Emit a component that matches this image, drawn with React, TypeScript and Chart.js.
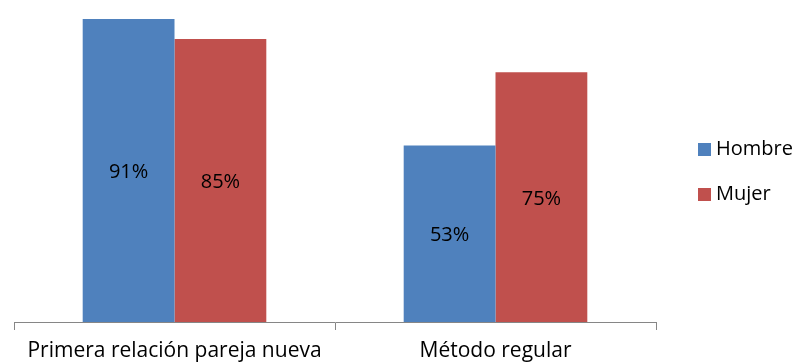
import React, { useEffect, useRef } from "react";
import { Chart, registerables } from "chart.js";

Chart.register(...registerables);

const categories = ["Primera relación pareja nueva", "Método regular"];
const seriesNames = ["Hombre", "Mujer"];
const hombreValues = [91, 53];
const mujerValues = [85, 75];
const seriesColors = ["#4F81BD", "#C0504D"];

const FONT = "'Open Sans', sans-serif";

const valueLabels = {
  id: "valueLabels",
  afterDatasetsDraw(chart: any) {
    const ctx = chart.ctx;
    ctx.save();
    ctx.font = `20px ${FONT}`;
    ctx.fillStyle = "#000";
    ctx.textAlign = "center";
    ctx.textBaseline = "middle";
    chart.data.datasets.forEach((ds: any, i: number) => {
      const meta = chart.getDatasetMeta(i);
      meta.data.forEach((bar: any, j: number) => {
        const y = (bar.y + bar.base) / 2 + 2;
        ctx.fillText(`${ds.data[j]}%`, bar.x, y);
      });
    });
    ctx.restore();
  },
};

const sideLegend = {
  id: "sideLegend",
  afterDraw(chart: any) {
    const ctx = chart.ctx;
    const area = chart.chartArea;
    const mid = (area.top + area.bottom) / 2;
    const x = area.right + 42;
    const gap = 45;
    ctx.save();
    ctx.font = `20px ${FONT}`;
    ctx.textBaseline = "middle";
    ctx.textAlign = "left";
    chart.data.datasets.forEach((ds: any, i: number) => {
      const cy = mid - 11.5 + i * gap;
      ctx.fillStyle = ds.backgroundColor;
      ctx.fillRect(x, cy - 6.5, 13, 13);
      ctx.fillStyle = "#000";
      ctx.fillText(ds.label, x + 18, cy);
    });
    ctx.restore();
  },
};

export default function App() {
  const ref = useRef<HTMLCanvasElement | null>(null);

  useEffect(() => {
    document.body.style.margin = "0";
    const canvas = ref.current;
    if (!canvas) return;
    const chart = new Chart(canvas, {
      type: "bar",
      data: {
        labels: categories,
        datasets: [
          { label: seriesNames[0], data: hombreValues, backgroundColor: seriesColors[0] },
          { label: seriesNames[1], data: mujerValues, backgroundColor: seriesColors[1] },
        ],
      },
      options: {
        animation: false,
        responsive: false,
        maintainAspectRatio: false,
        layout: { padding: { left: 14, right: 142, top: 0, bottom: 0 } },
        datasets: { bar: { categoryPercentage: 0.572, barPercentage: 1.0 } },
        plugins: {
          legend: { display: false },
          tooltip: { enabled: false },
        },
        scales: {
          x: {
            grid: {
              display: true,
              drawOnChartArea: false,
              drawTicks: true,
              tickLength: 8,
              color: "#868686",
              offset: true,
            },
            border: { display: true, color: "#868686", width: 1 },
            ticks: {
              color: "#000",
              font: { family: FONT, size: 21 },
              padding: 8,
              maxRotation: 0,
            },
            afterFit(scale: any) {
              scale.height = 40;
            },
          },
          y: {
            display: false,
            min: 0,
            max: 96.7,
          },
        },
      },
      plugins: [valueLabels, sideLegend],
    });
    return () => chart.destroy();
  }, []);

  return <canvas ref={ref} width={798} height={362} style={{ display: "block" }} />;
}
